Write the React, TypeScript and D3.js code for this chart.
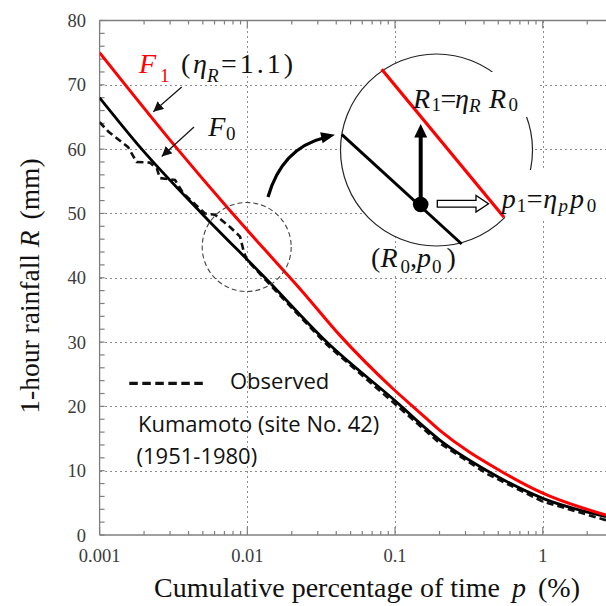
import React from 'react';
import * as d3 from 'd3';

// ---- data ----
const pF0 = [0.001, 0.00193, 0.00491, 0.0132, 0.0345, 0.108, 0.147, 0.2, 0.42, 1, 2.68];
const rF0 = [68, 60, 50, 40, 30, 20.2, 17.4, 14.8, 10, 5.7, 2.85];

const pF1 = [0.001, 0.00337, 0.0076, 0.0132, 0.0227, 0.0425, 0.0973, 0.1476, 0.2, 0.514, 1, 2.68];
const rF1 = [75, 60, 50.5, 44.3, 38.3, 31, 22.7, 19, 16.3, 10, 6.5, 3.1];

const pObs = [0.001, 0.00115, 0.00156, 0.00178, 0.00219, 0.00244, 0.00256, 0.00324, 0.00369, 0.00517, 0.00604,
  0.00764, 0.00893, 0.0094, 0.0099, 0.0135, 0.02, 0.0345, 0.06, 0.108, 0.2, 0.42, 1, 2.68];
const rObs = [64.2, 62.7, 60.3, 58.0, 57.9, 57.0, 55.5, 55.2, 53.1, 50.0, 49.8,
  47.9, 46.4, 44.3, 42.8, 39.5, 35.3, 29.6, 24.8, 19.7, 14.3, 9.5, 5.2, 2.3];

const yTickValues = [0, 10, 20, 30, 40, 50, 60, 70, 80];
const yGridValues = [10, 20, 30, 40, 50, 60, 70];
const xMajorValues = [0.001, 0.01, 0.1, 1];
const xTickLabels = ['0.001', '0.01', '0.1', '1'];
const xGridValues = [0.01, 0.1, 1];

const SERIF = '"Liberation Serif", "Times New Roman", serif';
const SANS = '"Open Sans", "Noto Sans", sans-serif';

export default function App() {
  const W = 606, H = 606;
  const x = d3.scaleLog().domain([0.001, 2.68]).range([99.6, 606]);
  const y = d3.scaleLinear().domain([0, 80]).range([535, 20.5]);
  const [x0, x1] = x.range();
  const [y0, y1] = y.range();
  const snap = (v: number) => Math.round(v) + 0.5;

  const line = d3.line<[number, number]>()
    .x(d => x(d[0])).y(d => y(d[1]))
    .curve(d3.curveMonotoneX);
  const obsLine = d3.line<[number, number]>()
    .x(d => x(d[0])).y(d => y(d[1]));

  const f0 = pF0.map((p, i) => [p, rF0[i]] as [number, number]);
  const f1 = pF1.map((p, i) => [p, rF1[i]] as [number, number]);
  const obs = pObs.map((p, i) => [p, rObs[i]] as [number, number]);

  const minorX: number[] = [];
  xMajorValues.forEach(d => {
    for (let k = 2; k <= 9; k++) {
      const v = d * k;
      if (v <= 2.68) minorX.push(v);
    }
  });
  const minorY = d3.range(0, 81, 2);

  const gridStyle = { stroke: '#8c8c8c', strokeWidth: 1, strokeDasharray: '2,3', shapeRendering: 'crispEdges' as const };
  const axisColor = '#7f7f7f';

  return (
    <svg width={W} height={H} style={{ position: 'fixed', left: 0, top: 0, background: '#fff' }}>
      <defs>
        <clipPath id="plot">
          <rect x={x0} y={y1} width={x1 - x0} height={y0 - y1} />
        </clipPath>
        <marker id="arr" markerUnits="userSpaceOnUse" markerWidth={10} markerHeight={10}
          refX={10} refY={5} orient="auto" viewBox="0 0 10 10">
          <path d="M0,0 L10,5 L0,10 z" fill="#111" />
        </marker>
      </defs>
      <rect x={0} y={0} width={W} height={H} fill="#fff" />

      {/* grid */}
      {yGridValues.map(v => (
        <line key={'gy' + v} x1={x0} x2={x1} y1={snap(y(v))} y2={snap(y(v))} {...gridStyle} />
      ))}
      {xGridValues.map(v => (
        <line key={'gx' + v} x1={snap(x(v))} x2={snap(x(v))} y1={y1} y2={y0} {...gridStyle} />
      ))}

      {/* axes */}
      <line x1={x0} x2={x0} y1={y1} y2={y0} stroke={axisColor} strokeWidth={1.3} />
      <line x1={x0} x2={x1} y1={y0} y2={y0} stroke={axisColor} strokeWidth={1.3} />
      <line x1={x0} x2={x1} y1={y1} y2={y1} stroke={axisColor} strokeWidth={1.3} />
      {minorY.map(v => (
        <line key={'ty' + v} x1={x0} x2={x0 + 5} y1={y(v)} y2={y(v)} stroke={axisColor} strokeWidth={1.2} />
      ))}
      {minorX.map(v => (
        <g key={'tx' + v}>
          <line x1={x(v)} x2={x(v)} y1={y0} y2={y0 - 4} stroke={axisColor} strokeWidth={1.2} />
          <line x1={x(v)} x2={x(v)} y1={y1} y2={y1 + 4} stroke={axisColor} strokeWidth={1.2} />
        </g>
      ))}
      {xMajorValues.map(v => (
        <g key={'tX' + v}>
          <line x1={x(v)} x2={x(v)} y1={y0} y2={y0 - 8} stroke={axisColor} strokeWidth={1.2} />
          <line x1={x(v)} x2={x(v)} y1={y1} y2={y1 + 8} stroke={axisColor} strokeWidth={1.2} />
        </g>
      ))}
      {yTickValues.map(v => (
        <text key={'ly' + v} x={86} y={y(v) + 6.5} textAnchor="end" fontFamily={SERIF} fontSize={18.5} fill="#3a3a3a">{v}</text>
      ))}
      {xMajorValues.map((v, i) => (
        <text key={'lx' + v} x={x(v)} y={561.5} textAnchor="middle" fontFamily={SERIF} fontSize={18.5} fill="#3a3a3a">{xTickLabels[i]}</text>
      ))}

      {/* axis titles */}
      <text x={367} y={597} textAnchor="middle" fontFamily={SERIF} fontSize={28} fill="#111">
        Cumulative percentage of time <tspan fontStyle="italic" dx={5}>p</tspan><tspan dx={5}> (%)</tspan>
      </text>
      <text transform="translate(39,286) rotate(-90)" textAnchor="middle" fontFamily={SERIF} fontSize={27.5} fill="#111">
        1-hour rainfall <tspan fontStyle="italic">R</tspan><tspan dx={4}> (mm)</tspan>
      </text>

      {/* curves */}
      <g clipPath="url(#plot)">
        <path d={obsLine(obs) || ''} fill="none" stroke="#111" strokeWidth={2.6} strokeDasharray="7,4" />
        <path d={line(f0) || ''} fill="none" stroke="#000" strokeWidth={2.8} />
        <path d={line(f1) || ''} fill="none" stroke="#ff0000" strokeWidth={3} />
      </g>

      {/* dashed zoom circle */}
      <circle cx={246.7} cy={247} r={44.5} fill="none" stroke="#444" strokeWidth={1.1} strokeDasharray="5,3" />

      {/* curve labels */}
      <text fontFamily={SERIF} fontSize={28}>
        <tspan x={139} y={73.3} fill="#ff0000" fontStyle="italic">F</tspan>
        <tspan x={160} y={81.7} fill="#ff0000" fontSize={19}>1</tspan>
        <tspan x={181} y={73.3} fill="#111">(</tspan>
        <tspan x={193} y={73.3} fill="#111" fontStyle="italic">η</tspan>
        <tspan x={207} y={81.7} fill="#111" fontStyle="italic" fontSize={19}>R</tspan>
        <tspan x={221} y={73.3} fill="#111" letterSpacing={3}>=1.1)</tspan>
      </text>
      <line x1={181.7} y1={87} x2={153.3} y2={111.7} stroke="#111" strokeWidth={1.2} markerEnd="url(#arr)" />
      <text fontFamily={SERIF} fontSize={28} fill="#111">
        <tspan x={208.3} y={136} fontStyle="italic">F</tspan>
        <tspan x={226} y={140} fontSize={19}>0</tspan>
      </text>
      <line x1={194} y1={127} x2={161.7} y2={156.5} stroke="#111" strokeWidth={1.2} markerEnd="url(#arr)" />

      {/* legend */}
      <line x1={129.3} x2={206.7} y1={383.3} y2={383.3} stroke="#111" strokeWidth={3.2} strokeDasharray="8.5,4.5" />
      <text x={230} y={388.5} fontFamily={SANS} fontSize={22} fill="#111">Observed</text>
      <text x={138} y={431.7} fontFamily={SANS} fontSize={22} fill="#111">Kumamoto (site No. 42)</text>
      <text x={136.5} y={464} fontFamily={SANS} fontSize={22} fill="#111">(1951-1980)</text>

      {/* curved arrow */}
      <path d="M268,197 Q282,148 325,137.5" fill="none" stroke="#000" strokeWidth={3.2} />
      <polygon points="335,134.8 322.6,143.2 320.2,132.3" fill="#000" />

      {/* inset circle */}
      <circle cx={436.5} cy={150} r={96} fill="#fff" stroke="#222" strokeWidth={1.2} />
      <rect x={408} y={72} width={130} height={45} fill="#fff" />
      <rect x={505} y={170} width={101} height={48} fill="#fff" />
      <rect x={370} y={250} width={90} height={25} fill="#fff" />
      <line x1={381.7} y1={69.3} x2={504} y2={217.3} stroke="#ff0000" strokeWidth={3.2} />
      <line x1={341.7} y1={134.3} x2={461.7} y2={244} stroke="#000" strokeWidth={3} />
      <line x1={420.7} y1={204} x2={420.7} y2={135} stroke="#000" strokeWidth={4} />
      <polygon points="420.7,124 427.2,137.5 414.2,137.5" fill="#000" />
      <polygon points="437.3,200.3 476,200.3 476,195.5 488.5,203.7 476,212 476,207.2 437.3,207.2" fill="#fff" stroke="#000" strokeWidth={1.3} />
      <circle cx={420.7} cy={204.5} r={7.8} fill="#000" />

      <text fontFamily={SERIF} fontSize={28} fill="#111">
        <tspan x={413} y={108} fontStyle="italic">R</tspan>
        <tspan x={431.5} y={111} fontSize={19}>1</tspan>
        <tspan x={440.5} y={108}>=</tspan>
        <tspan x={455} y={108} fontStyle="italic">η</tspan>
        <tspan x={469} y={112} fontSize={19} fontStyle="italic">R</tspan>
        <tspan x={489} y={108} fontStyle="italic">R</tspan>
        <tspan x={508.5} y={111} fontSize={19}>0</tspan>
      </text>
      <text fontFamily={SERIF} fontSize={28} fill="#111">
        <tspan x={501.7} y={208.3} fontStyle="italic">p</tspan>
        <tspan x={516.7} y={212} fontSize={19}>1</tspan>
        <tspan x={526.7} y={208.3}>=</tspan>
        <tspan x={543.3} y={208.3} fontStyle="italic">η</tspan>
        <tspan x={558.5} y={212} fontSize={19} fontStyle="italic">p</tspan>
        <tspan x={570} y={208.3} fontStyle="italic">p</tspan>
        <tspan x={586.7} y={212} fontSize={19}>0</tspan>
      </text>
      <text fontFamily={SERIF} fontSize={28} fill="#111">
        <tspan x={371} y={267.3}>(</tspan>
        <tspan x={380.5} y={267.3} fontStyle="italic">R</tspan>
        <tspan x={400.5} y={273.3} fontSize={19}>0</tspan>
        <tspan x={410} y={267.3}>,</tspan>
        <tspan x={417} y={267.3} fontStyle="italic">p</tspan>
        <tspan x={432} y={273.3} fontSize={19}>0</tspan>
        <tspan x={446.5} y={267.3}>)</tspan>
      </text>
    </svg>
  );
}
